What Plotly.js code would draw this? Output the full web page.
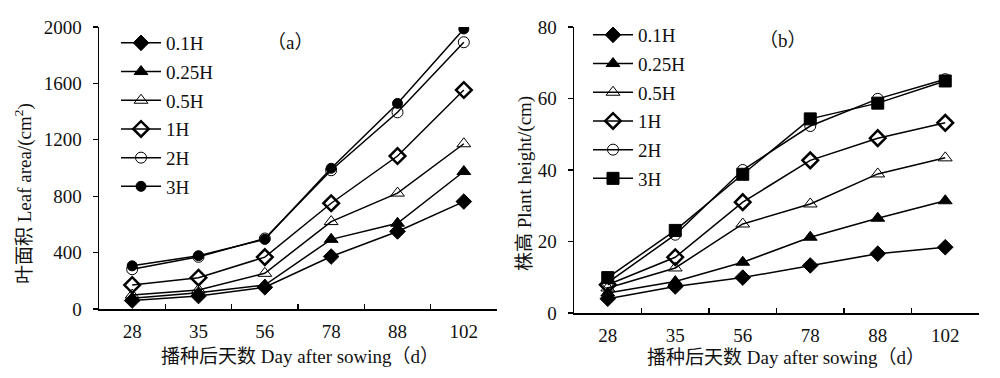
<!DOCTYPE html>
<html>
<head>
<meta charset="utf-8">
<script src="https://cdn.plot.ly/plotly-3.0.1.min.js"></script>
<style>html,body{margin:0;padding:0;background:#fff;}#chart{width:1000px;height:378px;}</style>
</head>
<body>
<div id="chart"></div>
<script>
const days = ["28", "35", "56", "78", "88", "102"];
const seriesNames = ["0.1H", "0.25H", "0.5H", "1H", "2H", "3H"];

const leafArea_01H  = [60, 92, 154, 372, 550, 762];
const leafArea_025H = [76, 116, 170, 494, 608, 975];
const leafArea_05H  = [99, 135, 253, 620, 822, 1172];
const leafArea_1H   = [170, 222, 368, 750, 1085, 1553];
const leafArea_2H   = [282, 370, 500, 984, 1395, 1892];
const leafArea_3H   = [306, 378, 494, 998, 1458, 1986];

const height_01H  = [4.0, 7.4, 9.9, 13.3, 16.6, 18.4];
const height_025H = [5.6, 8.8, 14.2, 21.2, 26.5, 31.4];
const height_05H  = [7.0, 12.6, 24.9, 30.5, 38.9, 43.4];
const height_1H   = [7.9, 15.6, 31.0, 42.7, 48.9, 53.2];
const height_2H   = [8.5, 21.9, 40.0, 52.3, 59.9, 65.4];
const height_3H   = [9.9, 23.1, 38.8, 54.3, 58.7, 64.9];

const leafSeries = [leafArea_01H, leafArea_025H, leafArea_05H, leafArea_1H, leafArea_2H, leafArea_3H];
const heightSeries = [height_01H, height_025H, height_05H, height_1H, height_2H, height_3H];

const FONT = "'Liberation Serif', 'Noto Sans CJK SC', serif";
const black = "#000";

const markerStyles = [
  {symbol: "diamond", size: 12, color: black, line: {color: black, width: 1}},
  {symbol: "triangle-up", size: 12, color: black, line: {color: black, width: 1}},
  {symbol: "triangle-up-open", size: 12, color: black, line: {color: black, width: 1}},
  {symbol: "diamond-open", size: 12, color: black, line: {color: black, width: 2.5}},
  {symbol: "circle-open", size: 11, color: black, line: {color: black, width: 1}},
  {symbol: "circle", size: 10, color: black, line: {color: black, width: 1}}
];
const markerStylesB = markerStyles.slice(0, 5).concat([{symbol: "square", size: 12, color: black, line: {color: black, width: 1}}]);

const traces = [];
seriesNames.forEach((name, i) => {
  traces.push({
    x: days, y: leafSeries[i], name: name, type: "scatter", mode: "lines+markers",
    xaxis: "x", yaxis: "y", legend: "legend", legendgroup: "a" + i,
    line: {color: black, width: 1.5}, marker: markerStyles[i]
  });
});
seriesNames.forEach((name, i) => {
  traces.push({
    x: days, y: heightSeries[i], name: name, type: "scatter", mode: "lines+markers",
    xaxis: "x2", yaxis: "y2", legend: "legend2", legendgroup: "b" + i,
    line: {color: black, width: 1.5}, marker: markerStylesB[i]
  });
});

const xCommon = {
  type: "category", range: [-0.5, 5.5], showline: true, linecolor: black, linewidth: 1.5,
  ticks: "inside", tickson: "boundaries", ticklen: 5, tickcolor: black, tickwidth: 1.2,
  showgrid: false, zeroline: false, tickfont: {family: FONT, size: 19, color: "#111"},
  ticklabelstandoff: 5, fixedrange: true
};
const yCommon = {
  showline: true, linecolor: black, linewidth: 1.5, ticks: "outside", ticklen: 5,
  tickcolor: black, tickwidth: 1.2, showgrid: false, zeroline: false,
  tickfont: {family: FONT, size: 19, color: "#111"}, ticklabelstandoff: 7, fixedrange: true
};

const annFont = {family: FONT, size: 19, color: "#111"};
function ann(text, px, py, extra) {
  return Object.assign({text: text, x: px / 1000, y: 1 - py / 378, xref: "paper", yref: "paper",
    xanchor: "center", yanchor: "middle", showarrow: false, font: annFont}, extra || {});
}

const legendCommon = {
  xanchor: "left", yanchor: "top", bgcolor: "rgba(0,0,0,0)",
  font: {family: FONT, size: 19, color: "#111"}, traceorder: "grouped", tracegroupgap: 1, itemwidth: 40
};

const layout = {
  width: 1000, height: 378,
  margin: {l: 0, r: 0, t: 0, b: 0},
  paper_bgcolor: "#fff", plot_bgcolor: "#fff",
  showlegend: true,
  xaxis: Object.assign({}, xCommon, {domain: [0.099, 0.497], anchor: "y"}),
  yaxis: Object.assign({}, yCommon, {domain: [1 - 309 / 378, 1 - 27 / 378], range: [0, 2000], dtick: 400, anchor: "x"}),
  xaxis2: Object.assign({}, xCommon, {domain: [0.574, 0.979], anchor: "y2"}),
  yaxis2: Object.assign({}, yCommon, {domain: [1 - 313 / 378, 1 - 27 / 378], range: [0, 80], dtick: 20, anchor: "x2"}),
  legend: Object.assign({}, legendCommon, {x: 0.116, y: 1 - 24 / 378}),
  legend2: Object.assign({}, legendCommon, {x: 0.588, y: 1 - 16 / 378}),
  annotations: [
    ann("（a）", 290, 43),
    ann("（b）", 783, 40),
    ann("叶面积 Leaf area/(cm<sup>2</sup>)", 23, 194, {textangle: -90}),
    ann("株高 Plant height/(cm)", 525, 184, {textangle: -90}),
    ann("播种后天数 Day after sowing（d）", 300, 356),
    ann("播种后天数 Day after sowing（d）", 786, 357)
  ]
};

Plotly.newPlot("chart", traces, layout, {staticPlot: true, displayModeBar: false});
</script>
</body>
</html>
